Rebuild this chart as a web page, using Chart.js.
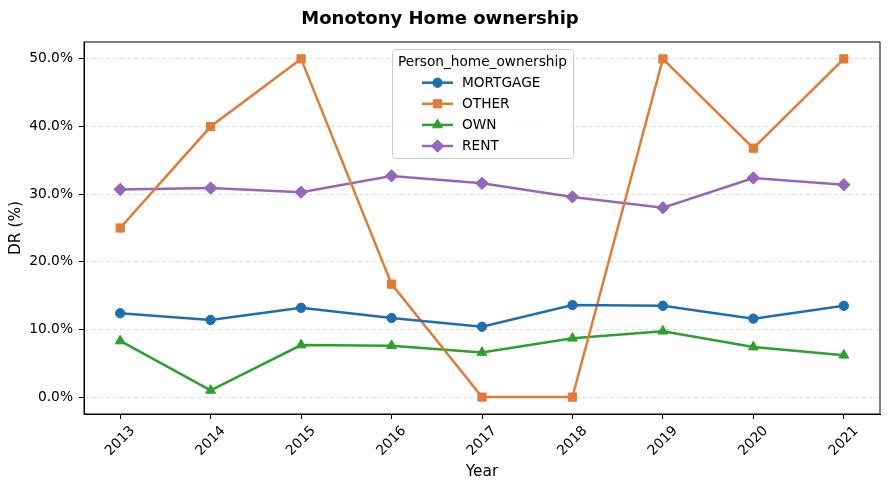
<!DOCTYPE html>
<html>
<head>
<meta charset="utf-8">
<script src="https://cdn.jsdelivr.net/npm/chart.js@4"></script>
<style>
  html, body { margin: 0; padding: 0; background: #fff; }
  #wrap { width: 889px; height: 489px; }
</style>
</head>
<body>
<div id="wrap"><canvas id="chart" width="889" height="489"></canvas></div>
<script>
// Data
const years = [2013, 2014, 2015, 2016, 2017, 2018, 2019, 2020, 2021];
const mortgage = [12.4, 11.4, 13.2, 11.7, 10.4, 13.6, 13.5, 11.6, 13.5];
const other = [25.0, 40.0, 50.0, 16.7, 0.0, 0.0, 50.0, 36.8, 50.0];
const own = [8.3, 1.0, 7.7, 7.6, 6.6, 8.7, 9.75, 7.4, 6.2];
const rent = [30.7, 30.9, 30.3, 32.7, 31.6, 29.6, 28.0, 32.4, 31.4];
const yTicks = [0, 10, 20, 30, 40, 50];

const FONT = "'DejaVu Sans', sans-serif";
const TICK_SIZE = 13.8;

function series(label, values, color, style, radius) {
  return {
    label: label,
    data: years.map((y, i) => ({ x: y, y: values[i] })),
    borderColor: color,
    backgroundColor: color,
    borderWidth: 2.5,
    pointStyle: style,
    pointRadius: radius,
    pointBorderWidth: 1,
    tension: 0,
  };
}

// matplotlib-like legend drawn inside the plot area
const boxLegend = {
  id: "boxLegend",
  afterDraw(chart) {
    const ctx = chart.ctx;
    const x0 = 392, y0 = 49, w = 181, h = 109;
    ctx.save();
    ctx.fillStyle = "rgba(255,255,255,0.8)";
    ctx.strokeStyle = "#cccccc";
    ctx.lineWidth = 1;
    ctx.beginPath();
    ctx.roundRect(x0 + 0.5, y0 + 0.5, w, h, 3);
    ctx.fill();
    ctx.stroke();

    ctx.fillStyle = "#000";
    ctx.font = "13.7px " + FONT;
    ctx.textAlign = "center";
    ctx.textBaseline = "middle";
    ctx.fillText("Person_home_ownership", x0 + w / 2, 62.5);

    ctx.textAlign = "left";
    chart.data.datasets.forEach((ds, i) => {
      const cy = 82.7 + i * 21.1;
      ctx.strokeStyle = ds.borderColor;
      ctx.lineWidth = ds.borderWidth;
      ctx.beginPath();
      ctx.moveTo(422, cy);
      ctx.lineTo(453, cy);
      ctx.stroke();
      ctx.fillStyle = ds.backgroundColor;
      ctx.lineWidth = 1;
      Chart.helpers.drawPoint(ctx, { pointStyle: ds.pointStyle, radius: ds.pointRadius, borderWidth: 1 }, 437.5, cy);
      ctx.fillStyle = "#000";
      ctx.fillText(ds.label, 462, cy + 0.5);
    });
    ctx.restore();
  },
};

// frame and 45 degree year labels centred under their ticks
const frame = {
  id: "frame",
  afterDraw(chart) {
    const a = chart.chartArea;
    const ctx = chart.ctx;
    ctx.save();
    ctx.strokeStyle = "#000";
    ctx.lineWidth = 1;
    ctx.strokeRect(a.left, a.top, a.right - a.left, a.bottom - a.top);

    const xs = chart.scales.x;
    ctx.font = TICK_SIZE + "px " + FONT;
    ctx.fillStyle = "#000";
    ctx.textAlign = "center";
    ctx.textBaseline = "middle";
    years.forEach((yr) => {
      const label = String(yr);
      const w = ctx.measureText(label).width;
      const h = TICK_SIZE * 0.95;
      const bb = (w + h) * Math.SQRT1_2;
      const cx = xs.getPixelForValue(yr);
      const cy = a.bottom + 10 + bb / 2;
      ctx.save();
      ctx.translate(cx, cy);
      ctx.rotate(-Math.PI / 4);
      ctx.fillText(label, 0, 0);
      ctx.restore();
    });
    ctx.restore();
  },
};

new Chart(document.getElementById("chart"), {
  type: "line",
  data: {
    datasets: [
      series("MORTGAGE", mortgage, "#1f6fb0", "circle", 4.7),
      series("OTHER", other, "#e37b36", "rect", 5.8),
      series("OWN", own, "#2ca02c", "triangle", 5.7),
      series("RENT", rent, "#9467bd", "rectRot", 6.2),
    ],
  },
  options: {
    responsive: false,
    animation: false,
    layout: { padding: { left: 0, right: 9, top: 0, bottom: 0 } },
    plugins: {
      legend: { display: false },
      tooltip: { enabled: false },
      title: {
        display: true,
        text: "Monotony Home ownership",
        color: "#000",
        font: { family: FONT, size: 18, weight: "bold" },
        padding: { top: 8.2, bottom: 12.2 },
      },
    },
    scales: {
      x: {
        type: "linear",
        min: 2012.6,
        max: 2021.4,
        afterBuildTicks(scale) {
          scale.ticks = years.map((v) => ({ value: v }));
        },
        afterFit(scale) {
          scale.height = 75;
        },
        grid: {
          drawOnChartArea: false,
          drawTicks: true,
          tickLength: 5,
          tickColor: "#000",
        },
        border: { display: true, color: "#000", width: 1 },
        ticks: { display: false },
        title: {
          display: true,
          text: "Year",
          color: "#000",
          font: { family: FONT, size: 15.4 },
          padding: { top: 0, bottom: 7.5 },
        },
      },
      y: {
        min: -2.5,
        max: 52.5,
        afterBuildTicks(scale) {
          scale.ticks = yTicks.map((v) => ({ value: v }));
        },
        afterFit(scale) {
          scale.width = 84;
        },
        grid: {
          color: "#dddddd",
          lineWidth: 1,
          drawTicks: true,
          tickLength: 5,
          tickColor: "#000",
          tickBorderDash: [],
        },
        border: { display: true, color: "#000", width: 1, dash: [4, 3] },
        ticks: {
          color: "#000",
          font: { family: FONT, size: TICK_SIZE },
          padding: 6,
          callback: (v) => v.toFixed(1) + "%",
        },
        title: {
          display: true,
          text: "DR (%)",
          color: "#000",
          font: { family: FONT, size: 15.4 },
          padding: { top: 7, bottom: 0 },
        },
      },
    },
  },
  plugins: [frame, boxLegend],
});
</script>
</body>
</html>
